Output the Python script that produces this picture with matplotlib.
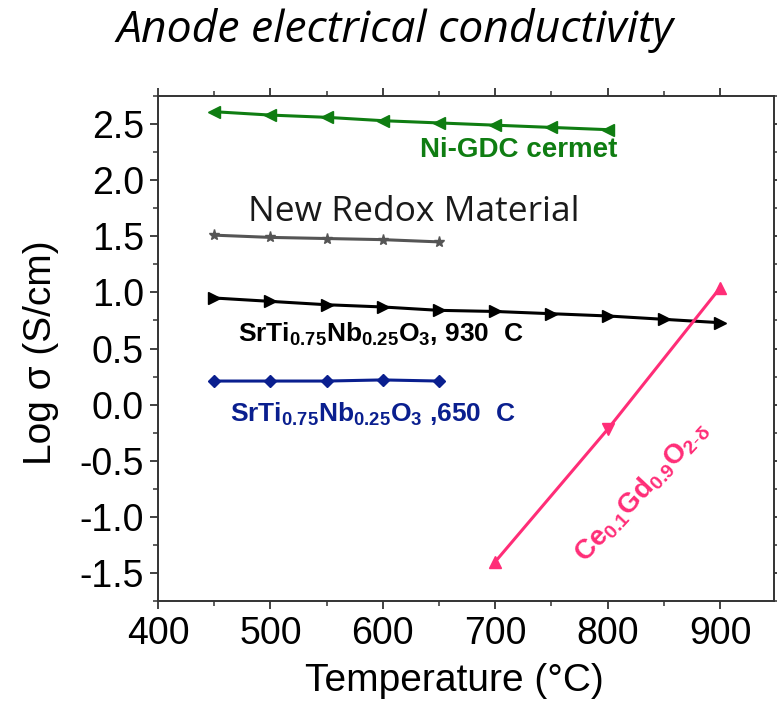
import matplotlib
matplotlib.use("Agg")
import matplotlib.pyplot as plt
from matplotlib.ticker import MultipleLocator

# Data
ni_x = [450, 500, 550, 600, 650, 700, 750, 800]
ni_y = [2.61, 2.58, 2.56, 2.53, 2.51, 2.49, 2.47, 2.45]

redox_x = [450, 500, 550, 600, 650]
redox_y = [1.51, 1.49, 1.48, 1.47, 1.45]

stn930_x = [450, 500, 550, 600, 650, 700, 750, 800, 850, 900]
stn930_y = [0.95, 0.92, 0.89, 0.87, 0.84, 0.83, 0.81, 0.79, 0.76, 0.73]

stn650_x = [450, 500, 550, 600, 650]
stn650_y = [0.21, 0.21, 0.21, 0.22, 0.21]

cgo_x = [700, 800, 900]
cgo_y = [-1.40, -0.22, 1.04]
cgo_markers = ['^', 'v', '^']

xticks = [400, 500, 600, 700, 800, 900]
yticks = [-1.5, -1.0, -0.5, 0.0, 0.5, 1.0, 1.5, 2.0, 2.5]

plt.rcParams['font.family'] = ['Liberation Sans', 'DejaVu Sans']
plt.rcParams['mathtext.fontset'] = 'custom'
plt.rcParams['mathtext.rm'] = 'Liberation Sans'
plt.rcParams['mathtext.bf'] = 'Liberation Sans:bold'
plt.rcParams['mathtext.it'] = 'Liberation Sans:italic'

fig = plt.figure(figsize=(7.77, 7.02), dpi=100)
ax = fig.add_axes([158 / 777, 101 / 702, 616 / 777, 505 / 702])

green = '#0f7d12'
gray = '#555555'
navy = '#0a1f8f'
pink = '#ff2d77'

ax.plot(ni_x, ni_y, color=green, marker='<', ms=9, lw=2.2)
ax.plot(redox_x, redox_y, color=gray, marker='*', ms=8, lw=2.2)
ax.plot(stn930_x, stn930_y, color='black', marker='>', ms=9, lw=2.2)
ax.plot(stn650_x, stn650_y, color=navy, marker='D', ms=6, lw=2.2)
ax.plot(cgo_x, cgo_y, color=pink, lw=2.2)
for xx, yy, m in zip(cgo_x, cgo_y, cgo_markers):
    ax.plot([xx], [yy], color=pink, marker=m, ms=9, ls='none')

ax.set_xlim(400, 948)
ax.set_ylim(-1.75, 2.75)
ax.set_xticks(xticks)
ax.set_yticks(yticks)
ax.set_yticklabels([f"{v:.1f}" for v in yticks])
ax.xaxis.set_minor_locator(MultipleLocator(50))
ax.yaxis.set_minor_locator(MultipleLocator(0.25))
ax.tick_params(axis='both', which='major', direction='out', length=6, width=1.3,
               labelsize=27, colors='#333333', labelcolor='black')
ax.tick_params(axis='both', which='minor', direction='out', length=3.5, width=1.1, colors='#333333')
ax.tick_params(axis='y', which='major', pad=4)
ax.tick_params(axis='x', which='major', pad=5)
ax.tick_params(axis='x', which='both', top=True, labeltop=False)
ax.tick_params(axis='y', which='both', right=True, labelright=False)
for s in ax.spines.values():
    s.set_linewidth(1.4)
    s.set_color('#333333')

fig.text(454 / 777, 11 / 702, 'Temperature (°C)', ha='center', va='baseline', fontsize=28)
fig.text(51 / 777, 0.497, 'Log σ (S/cm)', ha='center', va='baseline', fontsize=28,
         rotation=90, rotation_mode='anchor')

fig.text(395 / 777, 1 - 42 / 702, 'Anode electrical conductivity', ha='center', va='baseline',
         fontsize=32, style='italic', family='Open Sans')

ax.text(633, 2.205, 'Ni-GDC cermet', color=green, fontsize=20, fontweight='bold',
        ha='left', va='baseline')
ax.text(480, 1.634, 'New Redox Material', color='#1a1a1a', fontsize=25.5, family='Open Sans',
        ha='left', va='baseline')
ax.text(471, 0.562, r'SrTi$_{\mathbf{0.75}}$Nb$_{\mathbf{0.25}}$O$_{\mathbf{3}}$, 930  C', color='black',
        fontsize=19, fontweight='bold', ha='left', va='baseline')
ax.text(464, -0.152, r'SrTi$_{\mathbf{0.75}}$Nb$_{\mathbf{0.25}}$O$_{\mathbf{3}}$ ,650  C', color=navy,
        fontsize=19, fontweight='bold', ha='left', va='baseline')
ax.text(830, -0.78, r'Ce$_{\mathbf{0.1}}$Gd$_{\mathbf{0.9}}$O$_{\mathbf{2\text{-}\delta}}$', color=pink,
        fontsize=20, fontweight='bold', ha='center', va='center', rotation=47,
        rotation_mode='anchor')

fig.savefig('out.png', dpi=100)
